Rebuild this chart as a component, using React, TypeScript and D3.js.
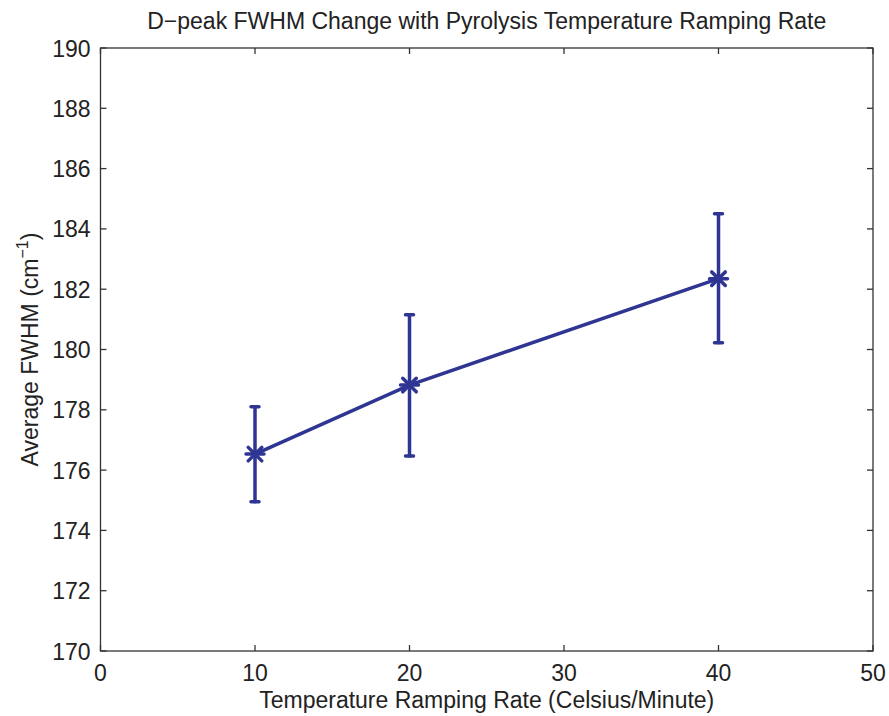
import React from "react";
import * as d3 from "d3";

const rates = [10, 20, 40];
const fwhm = [176.53, 178.82, 182.35];
const errLow = [174.95, 176.47, 180.22];
const errHigh = [178.1, 181.15, 184.5];
const xTicks = [0, 10, 20, 30, 40, 50];
const yTicks = [170, 172, 174, 176, 178, 180, 182, 184, 186, 188, 190];

const W = 889, H = 716;
const M = { left: 100.5, top: 48, right: 873, bottom: 651 };
const color = "#2e3592";
const font = "'Liberation Sans', Arial, Helvetica, sans-serif";

export default function App() {
  const x = d3.scaleLinear().domain([0, 50]).range([M.left, M.right]);
  const y = d3.scaleLinear().domain([170, 190]).range([M.bottom, M.top]);
  const line = d3.line<number>().x((_, i) => x(rates[i])).y((d) => y(d));
  const tk = 6;
  return (
    <svg width={W} height={H} style={{ position: "absolute", left: 0, top: 0, background: "#fff" }}>
      <rect x={0} y={0} width={W} height={H} fill="#fff" />
      <g stroke="#333" strokeWidth={1.3} fill="none">
        <rect x={M.left} y={M.top} width={M.right - M.left} height={M.bottom - M.top} />
        {xTicks.map((t) => (
          <g key={"x" + t}>
            <line x1={x(t)} x2={x(t)} y1={M.bottom} y2={M.bottom - tk} />
            <line x1={x(t)} x2={x(t)} y1={M.top} y2={M.top + tk} />
          </g>
        ))}
        {yTicks.map((t) => (
          <g key={"y" + t}>
            <line x1={M.left} x2={M.left + tk} y1={y(t)} y2={y(t)} />
            <line x1={M.right} x2={M.right - tk} y1={y(t)} y2={y(t)} />
          </g>
        ))}
      </g>
      <g fontFamily={font} fontSize={23} fill="#222">
        {xTicks.map((t) => (
          <text key={"xl" + t} x={x(t)} y={681} textAnchor="middle">{t}</text>
        ))}
        {yTicks.map((t) => (
          <text key={"yl" + t} x={M.left - 10} y={y(t) + 8.5} textAnchor="end">{t}</text>
        ))}
      </g>
      <text x={(M.left + M.right) / 2} y={29} textAnchor="middle" fontFamily={font} fontSize={23} fill="#222">
        D−peak FWHM Change with Pyrolysis Temperature Ramping Rate
      </text>
      <text x={(M.left + M.right) / 2} y={708} textAnchor="middle" fontFamily={font} fontSize={23} fill="#222">
        Temperature Ramping Rate (Celsius/Minute)
      </text>
      <text transform={`translate(38, ${(M.top + M.bottom) / 2}) rotate(-90)`} textAnchor="middle" fontFamily={font} fontSize={23} fill="#222">
        Average FWHM (cm<tspan dy={-10} fontSize={16}>−1</tspan><tspan dy={10}>)</tspan>
      </text>
      <path d={line(fwhm) || ""} fill="none" stroke={color} strokeWidth={3.5} />
      {rates.map((r, i) => {
        const cx = x(r), cy = y(fwhm[i]);
        const s = 9;
        return (
          <g key={"e" + i} stroke={color} strokeWidth={3.5} strokeLinecap="round">
            <line x1={cx} x2={cx} y1={y(errLow[i])} y2={y(errHigh[i])} />
            <line x1={cx - 4} x2={cx + 4} y1={y(errLow[i])} y2={y(errLow[i])} />
            <line x1={cx - 4} x2={cx + 4} y1={y(errHigh[i])} y2={y(errHigh[i])} />
            <line x1={cx - s} x2={cx + s} y1={cy} y2={cy} />
            <line x1={cx - s * 0.75} x2={cx + s * 0.75} y1={cy - s * 0.75} y2={cy + s * 0.75} />
            <line x1={cx - s * 0.75} x2={cx + s * 0.75} y1={cy + s * 0.75} y2={cy - s * 0.75} />
          </g>
        );
      })}
    </svg>
  );
}
